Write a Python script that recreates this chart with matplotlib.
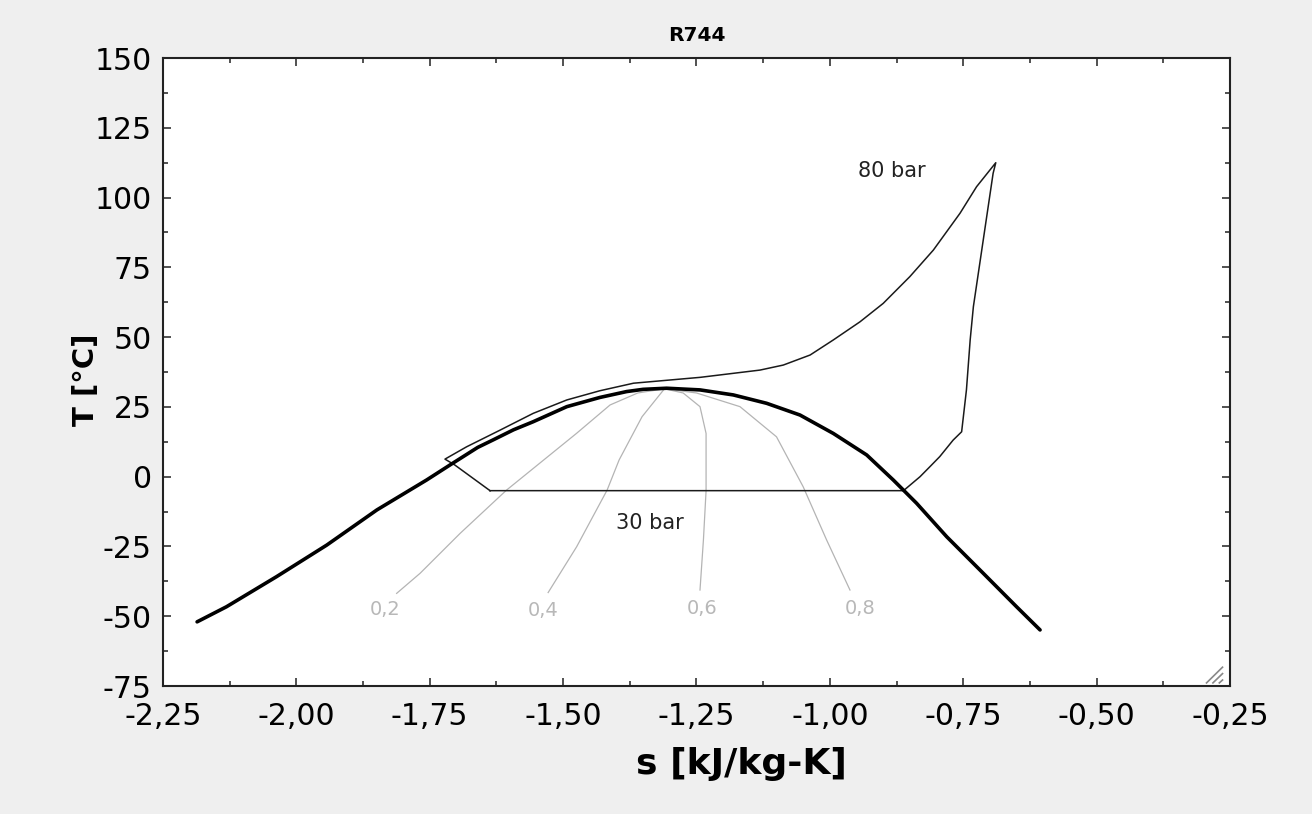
import matplotlib
matplotlib.use('Agg')
import matplotlib.pyplot as plt
from matplotlib.ticker import MultipleLocator, FuncFormatter

# saturation dome (liquid side -> critical point -> vapour side)
s_dome = [-2.186, -2.131, -2.037, -1.943, -1.849, -1.756, -1.712, -1.66,
          -1.631, -1.593, -1.556, -1.493, -1.431, -1.381, -1.35, -1.306,
          -1.2434, -1.181, -1.1185, -1.056, -0.9935, -0.931, -0.881, -0.8375,
          -0.781, -0.7125, -0.650, -0.606]
T_dome = [-52.0, -46.6, -35.8, -24.5, -11.9, -1.2, 4.2, 10.5,
          13.2, 16.8, 19.7, 25.1, 28.4, 30.5, 31.3, 31.7,
          31.1, 29.3, 26.3, 22.1, 15.5, 7.8, -1.2, -9.5,
          -21.5, -34.6, -46.6, -54.9]

# transcritical cycle: 30 bar evaporation, compression, 80 bar gas cooling, expansion
s_cycle = [-1.637, -0.862, -0.831, -0.8124, -0.794, -0.769, -0.753, -0.744,
           -0.737, -0.731, -0.7125, -0.694, -0.689, -0.725, -0.756, -0.806,
           -0.850, -0.900, -0.9435, -0.9935, -1.037, -1.0873, -1.131, -1.243,
           -1.368, -1.431, -1.493, -1.556, -1.618, -1.681, -1.7214, -1.703,
           -1.637]
T_cycle = [-5.0, -5.0, 0.0, 3.6, 7.2, 13.1, 16.1, 31.1,
           49.0, 60.9, 84.8, 108.7, 112.5, 103.9, 94.4, 81.2,
           71.7, 62.1, 55.5, 49.0, 43.6, 40.0, 38.2, 35.6,
           33.5, 30.8, 27.5, 22.7, 16.7, 10.7, 6.3, 4.2,
           -5.0]

# lines of constant quality
qualities = [0.2, 0.4, 0.6, 0.8]
s_q = [
    [-1.31, -1.36, -1.412, -1.475, -1.606, -1.693, -1.768, -1.812],
    [-1.31, -1.352, -1.395, -1.4175, -1.4746, -1.528],
    [-1.31, -1.275, -1.2434, -1.232, -1.232, -1.237, -1.2434],
    [-1.31, -1.25, -1.1685, -1.10, -1.05, -1.006, -0.9623],
]
T_q = [
    [31.5, 30.0, 25.7, 15.5, -4.8, -20.3, -34.6, -41.8],
    [31.5, 21.5, 6.0, -4.8, -25.1, -41.5],
    [31.5, 30.0, 25.1, 15.5, -5.0, -22.7, -40.6],
    [31.5, 30.0, 25.1, 14.3, -3.6, -22.7, -40.6],
]
s_qlabel = [-1.834, -1.537, -1.240, -0.943]
T_qlabel = [-47.5, -47.8, -47.2, -47.2]

pressure_labels = ['80 bar', '30 bar']
s_plabel = [-0.8846, -1.337]
T_plabel = [109.5, -16.5]

plt.rcParams['font.family'] = ['DejaVu Sans']

fig = plt.figure(figsize=(13.12, 8.14), dpi=100, facecolor='#efefef')
ax = fig.add_axes([0.1242, 0.1572, 0.8133, 0.7715])
ax.set_facecolor('white')

for sq, tq in zip(s_q, T_q):
    ax.plot(sq, tq, color='#b4b4b4', lw=0.9, zorder=1)
for q, sx, ty in zip(qualities, s_qlabel, T_qlabel):
    ax.text(sx, ty, '{:.1f}'.format(q).replace('.', ','), color='#b8b8b8',
            fontsize=14, ha='center', va='center')

ax.plot(s_cycle, T_cycle, color='#1a1a1a', lw=1.1, zorder=2)
ax.plot(s_dome, T_dome, color='black', lw=2.6, zorder=3,
        solid_capstyle='round', solid_joinstyle='round')

for lab, sx, ty in zip(pressure_labels, s_plabel, T_plabel):
    ax.text(sx, ty, lab, color='#222222', fontsize=15, ha='center', va='center')

ax.set_xlim(-2.25, -0.25)
ax.set_ylim(-75, 150)
ax.xaxis.set_major_locator(MultipleLocator(0.25))
ax.xaxis.set_minor_locator(MultipleLocator(0.125))
ax.yaxis.set_major_locator(MultipleLocator(25))
ax.yaxis.set_minor_locator(MultipleLocator(12.5))
ax.xaxis.set_major_formatter(FuncFormatter(lambda v, p: '{:.2f}'.format(v).replace('.', ',')))
ax.yaxis.set_major_formatter(FuncFormatter(lambda v, p: '{:.0f}'.format(v)))
ax.tick_params(which='both', direction='in', top=True, right=True,
               width=1.1, color='#222222')
ax.tick_params(which='major', length=5.5, labelsize=21.5)
ax.tick_params(axis='x', which='major', pad=11.5)
ax.tick_params(axis='y', which='major', pad=8)
ax.tick_params(which='minor', length=3.5)
for sp in ax.spines.values():
    sp.set_linewidth(1.5)
    sp.set_color('#222222')

ax.set_xlabel('s [kJ/kg-K]', fontsize=26, fontweight='bold')
ax.xaxis.set_label_coords(0.542, -0.097)
ax.set_ylabel('T [°C]', fontsize=21, fontweight='bold')
ax.yaxis.set_label_coords(-0.059, 0.487)
ax.set_title('R744', fontsize=14.5, fontweight='bold', pad=12)

# resize grip in the corner
for k in range(3):
    d = 0.006 * k
    ax.plot([0.978 + d, 0.993], [0.005, 0.03 - d * 1.7], color='#888888',
            lw=1.2, transform=ax.transAxes, clip_on=False)

fig.savefig('out.png', dpi=100, facecolor=fig.get_facecolor())
